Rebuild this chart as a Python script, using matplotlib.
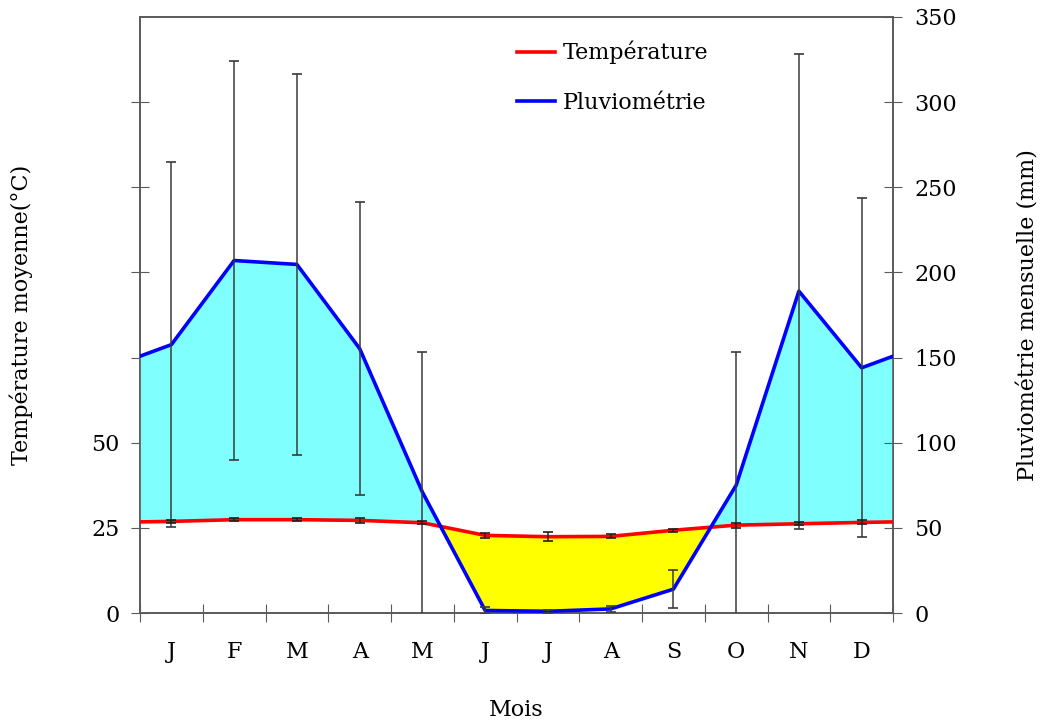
import numpy as np
import matplotlib.pyplot as plt

plt.rcParams['font.family'] = ['DejaVu Serif']
plt.rcParams['font.size'] = 16

# Monthly data (means and standard deviations)
mois = ['J', 'F', 'M', 'A', 'M', 'J', 'J', 'A', 'S', 'O', 'N', 'D']
temperature = [26.9, 27.4, 27.4, 27.2, 26.5, 22.8, 22.4, 22.5, 24.3, 25.8, 26.2, 26.6]
temperature_sd = [0.5, 0.5, 0.5, 0.7, 0.4, 0.7, 1.3, 0.6, 0.5, 0.7, 0.5, 0.6]
pluie = [157.6, 207, 204.7, 155.3, 71, 1.5, 1, 2.4, 14, 75, 189, 144]
pluie_sd = [107, 117, 112, 86, 82, 2, 1, 1.7, 11, 78, 139.5, 99.5]

temp_ticks = [0, 25, 50, 75, 100, 125, 150]
temp_labels = ['0', '25', '50', '', '', '', '']
pluie_ticks = [0, 50, 100, 150, 200, 250, 300, 350]

gris = '#5a5a5a'

xm = np.arange(12) + 0.5
# curves run from edge to edge, closing the year between D and J
x = np.concatenate([[0], xm, [12]])
p_edge = (pluie[-1] + pluie[0]) / 2
t_edge = (temperature[-1] + temperature[0]) / 2
p = np.concatenate([[p_edge], pluie, [p_edge]])
t2 = 2 * np.concatenate([[t_edge], temperature, [t_edge]])

fig, ax = plt.subplots(figsize=(10.44, 7.2), dpi=100)
fig.subplots_adjust(left=0.1341, right=0.8554, bottom=0.1486, top=0.9764)
ax2 = ax.twinx()

ax2.fill_between(x, p, t2, where=p >= t2, interpolate=True, color='#80FFFF', lw=0, zorder=1)
ax2.fill_between(x, p, t2, where=p <= t2, interpolate=True, color='#FFFF00', lw=0, zorder=1)
ax2.plot(x, t2, color='#FF0000', lw=2.6, label='Température', zorder=3)
ax2.plot(x, p, color='#0000FF', lw=2.6, label='Pluviométrie', zorder=3)
ax2.errorbar(xm, pluie, yerr=pluie_sd, fmt='none', ecolor='#3a3a3a', elinewidth=1.1,
             capsize=3.3, capthick=1.2, zorder=4)
ax2.errorbar(xm, 2 * np.array(temperature), yerr=2 * np.array(temperature_sd), fmt='none',
             ecolor='#202020', elinewidth=1.1, capsize=3.3, capthick=1.2, zorder=4)

ax.set_xlim(0, 12)
ax.set_ylim(0, 175)
ax2.set_ylim(0, 350)

ax.set_xticks(range(13))
ax.set_xticklabels([])
ax.set_xticks(xm, minor=True)
ax.set_xticklabels(mois, minor=True)
ax.tick_params(axis='x', which='major', direction='inout', length=13, color=gris)
ax.tick_params(axis='x', which='minor', length=0, pad=20)

ax.set_yticks(temp_ticks)
ax.set_yticklabels(temp_labels)
ax.tick_params(axis='y', direction='inout', length=13, color=gris, pad=8)
ax2.set_yticks(pluie_ticks)
ax2.tick_params(axis='y', direction='inout', length=13, color=gris, pad=9)

for a in (ax, ax2):
    for s in a.spines.values():
        s.set_color(gris)
        s.set_linewidth(1.2)

ax.set_xlabel('Mois', labelpad=26)
ax.set_ylabel('Température moyenne(°C)', labelpad=42)
ax2.set_ylabel('Pluviométrie mensuelle (mm)', labelpad=43)

ax2.legend(loc='upper left', bbox_to_anchor=(0.489, 0.975), frameon=False,
           borderaxespad=0, handlelength=1.7, handletextpad=0.35, labelspacing=1.25)

fig.savefig('out.png', dpi=100)
